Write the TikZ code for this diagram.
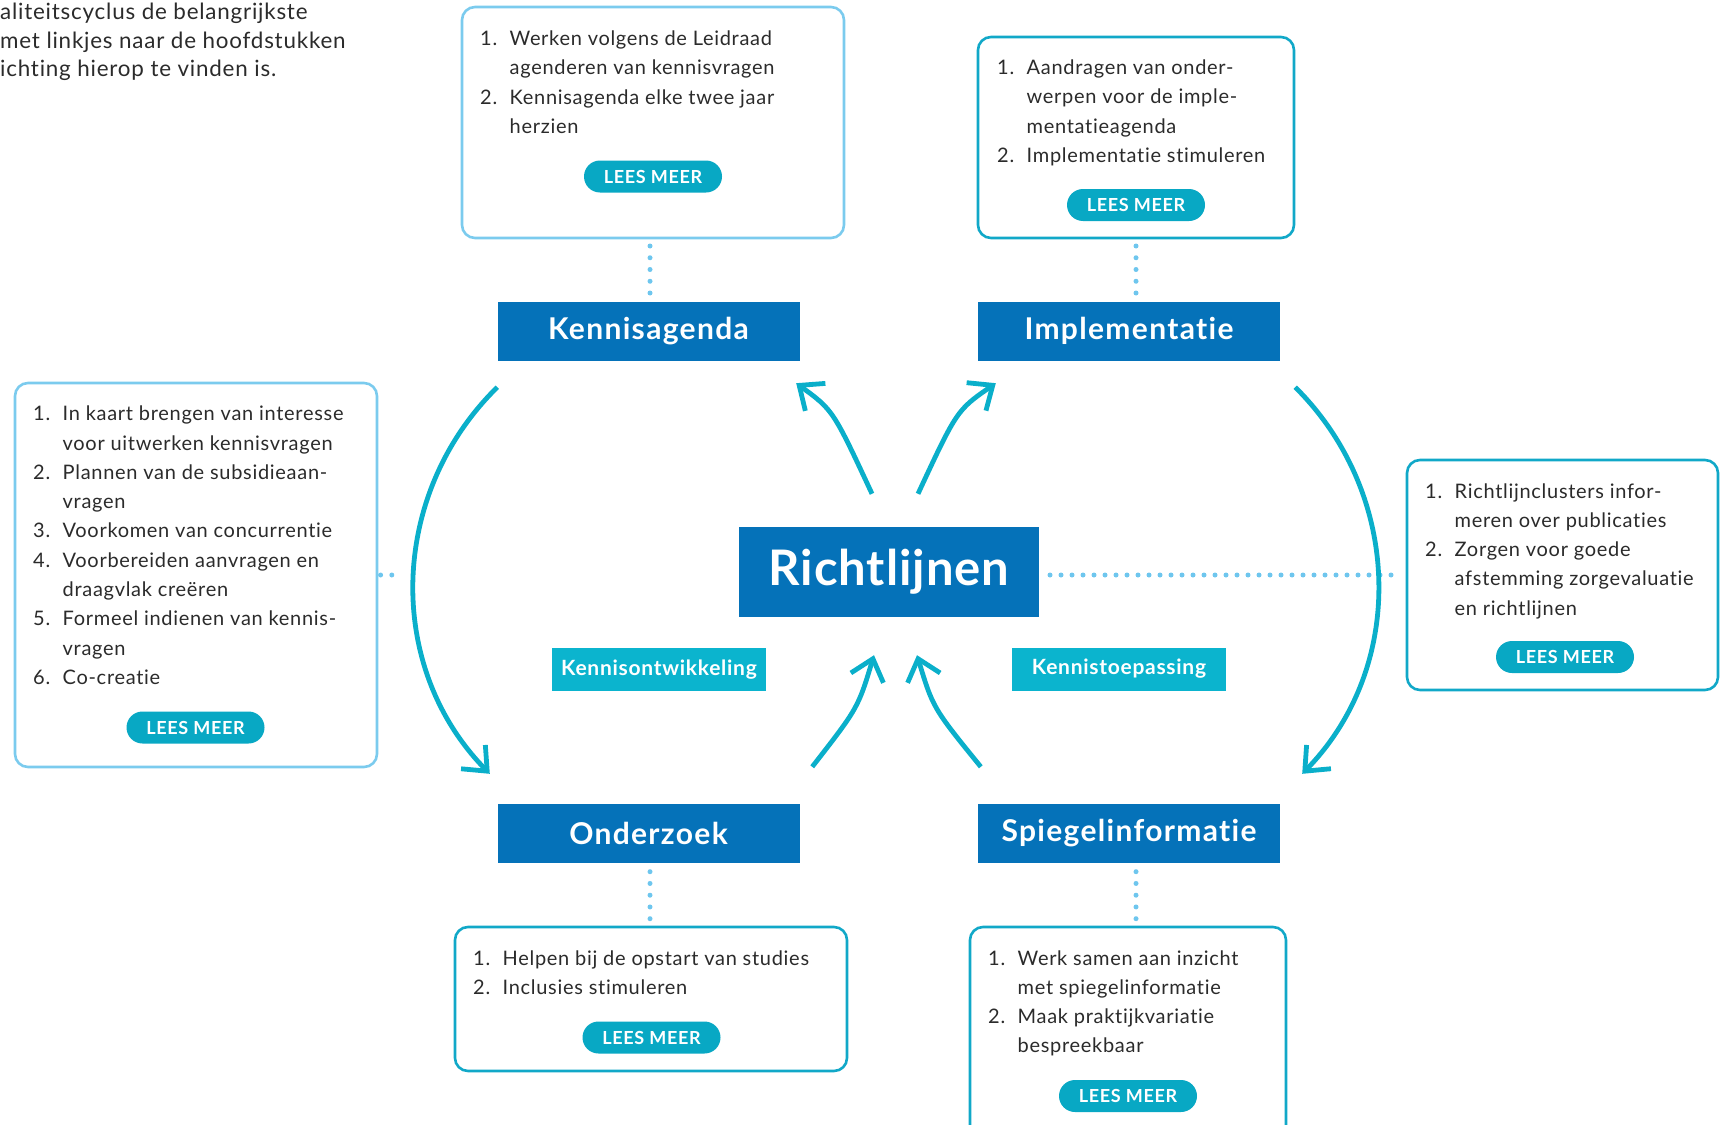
\documentclass[tikz,border=0pt]{standalone}
\usepackage{fontspec}
\setmainfont[Ligatures=NoCommon]{Lato}
\usetikzlibrary{arrows.meta,calc}
\definecolor{navy}{HTML}{0572B9}
\definecolor{arrowc}{HTML}{0AAFCA}
\definecolor{labelc}{HTML}{0BB4CE}
\definecolor{btnc}{HTML}{08A8C4}
\definecolor{tealb}{HTML}{11A8C8}
\definecolor{lightb}{HTML}{7BCBEE}
\definecolor{dotc}{HTML}{6EC6EE}
\definecolor{txtc}{HTML}{2B2B2B}
\newcommand\itemnr[1]{\makebox[29.5pt][l]{#1}}
\newcommand\itemind{\hspace*{29.5pt}}
\begin{document}
\begin{tikzpicture}[x=1pt,y=-1pt,
  mainnode/.style={fill=navy, text=white, font=\fontsize{30}{36}\selectfont\bfseries\addfontfeatures{LetterSpace=4.4},
    minimum width=302pt, minimum height=59pt, inner sep=0pt},
  centernode/.style={fill=navy, text=white, font=\fontsize{49}{56}\selectfont\bfseries\addfontfeatures{LetterSpace=1.9},
    minimum width=300pt, minimum height=90pt, inner sep=0pt},
  labelnode/.style={fill=labelc, text=white, font=\fontsize{21}{24}\selectfont\bfseries\addfontfeatures{LetterSpace=3.4},
    minimum width=214pt, minimum height=43pt, inner sep=0pt},
  infobox/.style={draw, line width=2.6pt, rounded corners=13pt, inner sep=0pt, fill=white},
  lightbox/.style={infobox, draw=lightb},
  tealbox/.style={infobox, draw=tealb},
  pill/.style={fill=btnc, text=white, font=\fontsize{18}{20}\selectfont\bfseries\addfontfeatures{LetterSpace=3.7},
    minimum width=138pt, minimum height=32pt, rounded corners=16pt, inner sep=0pt},
  itemtext/.style={anchor=base west, align=left, inner sep=0pt, text=txtc,
    font=\fontsize{20}{29.3}\selectfont\addfontfeatures{LetterSpace=3.5}},
  introtext/.style={anchor=base west, align=left, inner sep=0pt, text=txtc,
    font=\fontsize{22.4}{28.5}\selectfont\addfontfeatures{LetterSpace=3.5}},
  dotline/.style={draw=dotc, line width=5pt, line cap=round, dash pattern=on 0pt off 11.75pt},
  cyc/.style={draw=arrowc, line width=4.8pt, -{Straight Barb[length=20pt,width=34pt]}}
]
\useasboundingbox (0,0) rectangle (1720,1124);
\clip (0,0) rectangle (1720,1124);

% intro text (cut off at left); base = last line
\node[introtext] (intro) at (0,77) {aliteitscyclus de belangrijkste\\met linkjes naar de hoofdstukken\\ichting hierop te vinden is.};

% main nodes
\node[mainnode] (ka) at (648.5,331) {Kennisagenda};
\node[mainnode] (im) at (1129,331) {Implementatie};
\node[mainnode] (on) at (648.5,833.5) {Onderzoek};
\node[mainnode] (sp) at (1129,833.5) {Spiegelinformatie};
\node[centernode] (rl) at (889,572) {Richtlijnen};
\node[labelnode] (ko) at (659,669.5) {Kennisontwikkeling};
\node[labelnode] (kt) at (1119,669) {Kennistoepassing};

% info boxes
\node[lightbox, minimum width=382pt, minimum height=231pt] (b1) at (653,122.5) {};
\node[tealbox, minimum width=316pt, minimum height=201pt] (b2) at (1136,137.5) {};
\node[lightbox, minimum width=362pt, minimum height=384pt] (bl) at (196,575) {};
\node[tealbox, minimum width=311pt, minimum height=230pt] (br) at (1562.5,575) {};
\node[tealbox, minimum width=392pt, minimum height=144pt] (b3) at (651,999) {};
\node[tealbox, minimum width=316pt, minimum height=213pt] (b4) at (1128,1033.5) {};

% box texts (anchor base = baseline of last line)
\node[itemtext] (t1) at (480,133.4) {\itemnr{1.}Werken volgens de Leidraad\\\itemind agenderen van kennisvragen\\\itemnr{2.}Kennisagenda elke twee jaar\\\itemind herzien};
\node[itemtext] (t2) at (997,162.4) {\itemnr{1.}Aandragen van onder-\\\itemind werpen voor de imple-\\\itemind mentatieagenda\\\itemnr{2.}Implementatie stimuleren};
\node[itemtext] (t3) at (33,684.4) {\itemnr{1.}In kaart brengen van interesse\\\itemind voor uitwerken kennisvragen\\\itemnr{2.}Plannen van de subsidieaan-\\\itemind vragen\\\itemnr{3.}Voorkomen van concurrentie\\\itemnr{4.}Voorbereiden aanvragen en\\\itemind draagvlak creëren\\\itemnr{5.}Formeel indienen van kennis-\\\itemind vragen\\\itemnr{6.}Co-creatie};
\node[itemtext] (t4) at (1425,615.2) {\itemnr{1.}Richtlijnclusters infor-\\\itemind meren over publicaties\\\itemnr{2.}Zorgen voor goede\\\itemind afstemming zorgevaluatie\\\itemind en richtlijnen};
\node[itemtext] (t5) at (473,994.3) {\itemnr{1.}Helpen bij de opstart van studies\\\itemnr{2.}Inclusies stimuleren};
\node[itemtext] (t6) at (988,1052.9) {\itemnr{1.}Werk samen aan inzicht\\\itemind met spiegelinformatie\\\itemnr{2.}Maak praktijkvariatie\\\itemind bespreekbaar};

% buttons
\node[pill] (p1) at (653,176.5) {LEES MEER};
\node[pill] (p2) at (1136,205) {LEES MEER};
\node[pill] (p3) at (195.5,727.5) {LEES MEER};
\node[pill] (p4) at (1565,657) {LEES MEER};
\node[pill] (p5) at (651.5,1037.5) {LEES MEER};
\node[pill] (p6) at (1128,1096) {LEES MEER};

% dotted connectors
\draw[dotline, shorten <=6.7pt, shorten >=8.3pt] ([xshift=1.5pt]ka.north |- b1.south) -- ([xshift=1.5pt]ka.north);
\draw[dotline, shorten <=6.7pt, shorten >=8.3pt] (b2.south) -- (b2.south |- im.north);
\draw[dotline, shorten <=8.5pt, shorten >=6.5pt] ([xshift=1.5pt]on.south) -- ([xshift=1.5pt]on.south |- b3.north);
\draw[dotline, shorten <=8.5pt, shorten >=6.5pt] ([xshift=7pt]sp.south) -- ([xshift=7pt]sp.south |- b4.north);
\coordinate (ldot) at (403,575);
\draw[dotline, dash pattern=on 0pt off 11.2pt, shorten <=2.3pt] (bl.east) -- (ldot);
\draw[dotline, dash pattern=on 0pt off 11pt, shorten <=10.8pt, shorten >=12pt] (rl.east |- br.west) -- (br.west);

% cycle arrows
\draw[cyc] ($(ka.south west)+(0,26.5)$) .. controls (389.5,493) and (384,666) .. ($(on.north west)+(-7.5,-30)$);
\draw[cyc] ($(im.south east)+(15,26.5)$) .. controls (1402,493) and (1407.5,666) .. ($(sp.north east)+(22,-30)$);
\draw[cyc] ($(rl.north)+(-17,-33)$) .. controls (833,410) .. ($(ka.south east)+(-3.5,22.5)$);
\draw[cyc] ($(rl.north)+(29,-33)$) .. controls (957,410) .. ($(im.south west)+(18,22.5)$);
\draw[cyc] ($(on.north east)+(12.5,-37)$) .. controls (858,708) .. ($(rl.south)+(-15,38)$);
\draw[cyc] ($(sp.north west)+(3,-37)$) .. controls (933,708) .. ($(rl.south)+(28,38)$);
\end{tikzpicture}
\end{document}
